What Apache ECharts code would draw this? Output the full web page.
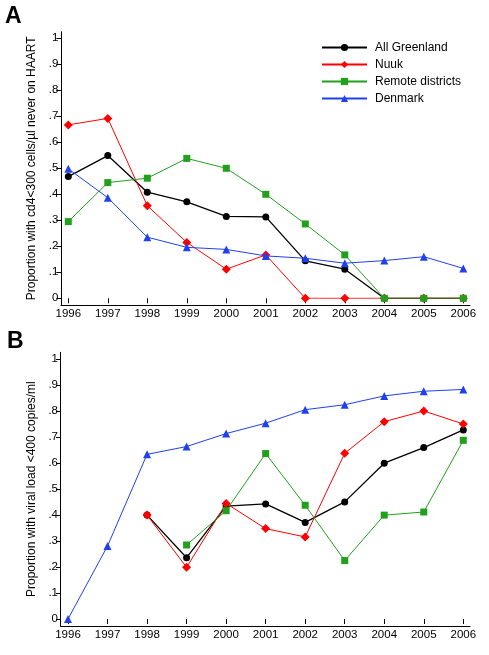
<!DOCTYPE html>
<html>
<head>
<meta charset="utf-8">
<script src="https://cdn.jsdelivr.net/npm/echarts@6/dist/echarts.min.js"></script>
<style>
html,body{margin:0;padding:0;background:#fff;}
#chart{width:489px;height:655px;}
</style>
</head>
<body>
<div id="chart"></div>
<script>
// ---------- data ----------
var years = [1996, 1997, 1998, 1999, 2000, 2001, 2002, 2003, 2004, 2005, 2006];
var seriesNames = ['All Greenland', 'Nuuk', 'Remote districts', 'Denmark'];
var yTickLabels = ['0', '.1', '.2', '.3', '.4', '.5', '.6', '.7', '.8', '.9', '1'];

// Panel A: proportion with cd4<300 cells/µl never on HAART
var aGreenland = [0.468, 0.549, 0.408, 0.371, 0.315, 0.313, 0.144, 0.112, 0, 0, 0];
var aNuuk      = [0.667, 0.692, 0.356, 0.215, 0.112, 0.167, 0, 0, 0, 0, 0];
var aRemote    = [0.295, 0.445, 0.462, 0.538, 0.500, 0.400, 0.286, 0.167, 0, 0, 0];
var aDenmark   = [0.498, 0.387, 0.235, 0.196, 0.188, 0.163, 0.154, 0.135, 0.145, 0.160, 0.115];

// Panel B: proportion with viral load <400 copies/ml
var bGreenland = [null, null, 0.400, 0.236, 0.435, 0.443, 0.372, 0.451, 0.600, 0.660, 0.728];
var bNuuk      = [null, null, 0.400, 0.199, 0.445, 0.348, 0.316, 0.638, 0.760, 0.801, 0.751];
var bRemote    = [null, null, null, 0.285, 0.417, 0.637, 0.438, 0.225, 0.400, 0.412, 0.688];
var bDenmark   = [0.000, 0.281, 0.634, 0.664, 0.714, 0.754, 0.806, 0.825, 0.859, 0.877, 0.884];

var yTitleA = 'Proportion with cd4<300 cells/µl never on HAART';
var yTitleB = 'Proportion with viral load <400 copies/ml';

// ---------- styling ----------
var FONT = 'Liberation Sans, Arial, sans-serif';
var colors = ['#000000', '#ff0000', '#21a01e', '#2040f0'];
var symbols = ['circle', 'diamond', 'rect', 'triangle'];
var symbolSizes = [7, 9, 7, 8];

function pairs(vals) {
  return years.map(function (y, i) { return [y, vals[i]]; });
}

var chart = echarts.init(document.getElementById('chart'), null, {renderer: 'canvas'});

function innerX(gi) {
  return {
    type: 'value', gridIndex: gi, min: 1996, max: 2006, interval: 1,
    offset: 7,
    axisLine: {show: false},
    axisTick: {show: true, length: 5, lineStyle: {color: '#000', width: 1}},
    axisLabel: {show: true, color: '#000', fontFamily: FONT, fontSize: 11.5, margin: 3,
                formatter: function (v) { return String(v); }},
    splitLine: {show: false}
  };
}
function innerY(gi) {
  return {
    type: 'value', gridIndex: gi, min: 0, max: 1, interval: 0.1,
    offset: 7,
    axisLine: {show: false},
    axisTick: {show: true, length: 5, lineStyle: {color: '#000', width: 1}},
    axisLabel: {show: true, color: '#000', fontFamily: FONT, fontSize: 11.5, margin: 3,
                formatter: function (v) { return yTickLabels[Math.round(v * 10)]; }},
    splitLine: {show: false}
  };
}
function frameX(gi) {
  return {
    type: 'value', gridIndex: gi, min: 0, max: 1,
    axisLine: {show: true, lineStyle: {color: '#000', width: 1}},
    axisTick: {show: false}, axisLabel: {show: false}, splitLine: {show: false}
  };
}
function frameY(gi, name) {
  return {
    type: 'value', gridIndex: gi, min: 0, max: 1,
    name: name, nameLocation: 'middle', nameGap: 23, nameRotate: 90,
    nameTextStyle: {color: '#000', fontFamily: FONT, fontSize: 12},
    axisLine: {show: true, lineStyle: {color: '#000', width: 1}},
    axisTick: {show: false}, axisLabel: {show: false}, splitLine: {show: false}
  };
}

var allSeries = [];
function addPanel(gi, dataSets) {
  dataSets.forEach(function (vals, k) {
    allSeries.push({
      name: seriesNames[k],
      type: 'line',
      xAxisIndex: gi, yAxisIndex: gi,
      data: pairs(vals),
      connectNulls: false,
      symbol: symbols[k],
      symbolSize: symbolSizes[k],
      showAllSymbol: true,
      lineStyle: {color: colors[k], width: k === 0 ? 1.3 : 1},
      itemStyle: {color: colors[k], borderWidth: 0},
      emphasis: {disabled: true},
      animation: false,
      z: 2 + k
    });
  });
}
addPanel(0, [aGreenland, aNuuk, aRemote, aDenmark]);
addPanel(1, [bGreenland, bNuuk, bRemote, bDenmark]);

var option = {
  backgroundColor: '#ffffff',
  animation: false,
  title: [
    {text: 'A', left: 5, top: 5, padding: 0, textStyle: {fontFamily: FONT, fontSize: 23, fontWeight: 900, color: '#000'}},
    {text: 'B', left: 7, top: 330, padding: 0, textStyle: {fontFamily: FONT, fontSize: 23, fontWeight: 900, color: '#000'}}
  ],
  legend: {
    data: seriesNames,
    orient: 'vertical',
    left: 321, top: 41, padding: 0,
    itemWidth: 45, itemHeight: 9, itemGap: 4,
    textStyle: {color: '#000', fontFamily: FONT, fontSize: 12, lineHeight: 13, padding: [0, 0, 0, 3]},
    selectedMode: false
  },
  grid: [
    {left: 68.3, top: 38.3, width: 395, height: 260},
    {left: 68, top: 359.3, width: 395.3, height: 259.7},
    {left: 61, top: 31.7, width: 409, height: 273.3},
    {left: 60.5, top: 352.3, width: 409.5, height: 273.7}
  ],
  xAxis: [innerX(0), innerX(1), frameX(2), frameX(3)],
  yAxis: [innerY(0), innerY(1), frameY(2, yTitleA), frameY(3, yTitleB)],
  series: allSeries
};
chart.setOption(option);
</script>
</body>
</html>
